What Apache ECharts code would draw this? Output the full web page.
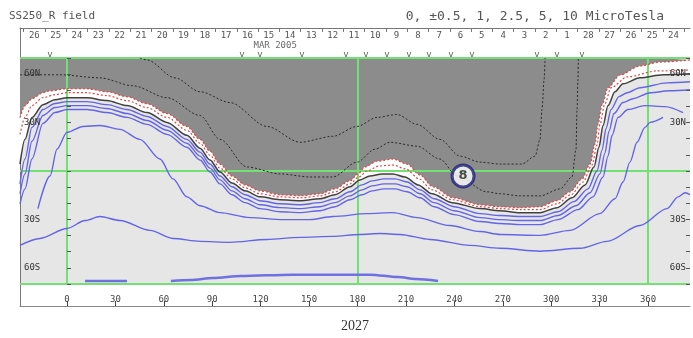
<!DOCTYPE html>
<html><head><meta charset="utf-8">
<script src="https://cdn.jsdelivr.net/npm/echarts@6/dist/echarts.min.js"></script>
<style>html,body{margin:0;padding:0;background:#fff}#c{width:693px;height:338px}</style>
</head><body><div id="c"></div>
<script>
// ---- axis ranges / ticks ----
const lonMin = -29.1, lonMax = 386.0;
const lonTicks = [0,30,60,90,120,150,180,210,240,270,300,330,360];
const latLabels = {60:'60N',30:'30N','-30':'30S','-60':'60S'};
const gridLon = [0,180,360];
const gridLat = [-70,0,70];
const dayLabels = ['26','25','24','23','22','21','20','19','18','17','16','15','14','13','12','11','10','9','8','7','6','5','4','3','2','1','28','27','26','25','24'];
const dayLon = [-20.2,-7.0,6.2,19.4,32.6,45.8,59.0,72.2,85.4,98.6,111.8,125.0,138.2,151.4,164.6,177.8,191.0,204.2,217.4,230.6,243.8,257.0,270.2,283.4,296.6,309.8,323.0,336.2,349.4,362.6,375.8];
const dayBounds = [-26.8,-13.6,-0.4,12.8,26.0,39.2,52.4,65.6,78.8,92.0,105.2,118.4,131.6,144.8,158.0,171.2,184.4,197.6,210.8,224.0,237.2,250.4,263.6,276.8,290.0,303.2,316.4,329.6,342.8,356.0,369.2,382.4];
const obsMarks = [-10.5,108.4,119.6,145.6,172.9,185.3,198.3,211.9,224.3,237.9,250.9,291.2,303.6,319.1];
const monthLabel = [[129,'MAR 2005']];
const rotation = '2027';
const stationMark = [[245.4,-3.1,'8']];

// ---- contours [lon, lat] ----
const grayEdge = [[-29.1,33.1],[-26.0,40.5],[-21.7,44.8],[-14.9,48.5],[-10.5,49.7],[0,51.0],[12.4,51.0],[24.8,49.1],[37.2,46.0],[49.6,41.7],[62.0,35.6],[74.3,27.6],[82.4,19.6],[88.6,12.3],[94.8,4.3],[102.2,-3.1],[110.3,-8.6],[119.6,-12.3],[132.0,-14.7],[144.4,-15.3],[156.8,-14.1],[166.1,-11.0],[175.3,-6.1],[180.3,-1.8],[184.6,2.5],[192.1,6.1],[202.0,7.4],[210.7,4.3],[218.7,-2.5],[226.8,-9.8],[239.2,-16.6],[255.9,-20.9],[268.3,-22.1],[280.7,-22.7],[293.1,-22.1],[303.6,-18.4],[311.7,-12.9],[319.1,-4.9],[324.1,4.3],[327.1,16.6],[329.0,28.9],[331.5,41.1],[335.2,51.6],[342.6,59.5],[355.0,65.1],[367.4,67.5],[386.0,68.8]];
const negHalf = [[-29.1,22.7],[-26.0,33.2],[-21.7,40.5],[-14.9,45.4],[-7.4,47.3],[0,48.5],[12.4,48.5],[24.8,46.7],[37.2,43.6],[49.6,39.3],[62.0,33.2],[74.3,25.2],[82.4,17.2],[88.6,9.8],[94.8,1.8],[102.2,-4.9],[110.3,-10.4],[119.6,-14.1],[132.0,-16.0],[144.4,-16.6],[156.8,-15.4],[166.1,-12.9],[175.3,-8.0],[180.9,-3.7],[185.9,0],[193.3,3.1],[202.0,3.7],[210.1,1.2],[218.1,-4.9],[226.2,-11.7],[238.6,-17.8],[255.9,-22.1],[268.3,-23.3],[280.7,-23.9],[293.1,-23.9],[303.6,-20.3],[312.3,-14.7],[319.7,-6.8],[325.3,3.7],[328.4,16.0],[330.2,28.9],[333.3,41.8],[337.1,51.6],[347.1,58.3],[365.7,62.0],[386.0,62.6]];
const neutral = [[-29.1,4.3],[-26.0,19.6],[-21.7,33.2],[-14.9,41.1],[-7.4,44.2],[0,45.4],[12.4,45.4],[24.8,43.6],[37.2,40.5],[49.6,36.2],[62.0,30.1],[74.3,22.1],[82.4,14.1],[88.6,6.8],[94.8,-0.6],[102.2,-7.4],[110.3,-12.3],[119.6,-16.0],[132.0,-17.8],[144.4,-18.4],[156.8,-17.2],[166.1,-14.7],[175.3,-9.8],[181.5,-5.5],[187.7,-3.1],[195.2,-1.8],[202.0,-1.8],[209.4,-3.7],[217.5,-8.6],[226.2,-14.1],[238.6,-19.6],[255.9,-23.3],[268.3,-24.6],[280.7,-25.8],[293.1,-25.8],[303.6,-22.7],[312.9,-16.6],[321.0,-8.6],[326.5,2.5],[329.6,14.7],[332.1,28.2],[335.2,40.5],[339.5,49.1],[344.5,54.0],[355.0,57.7],[369.3,59.6],[386.0,60.2]];
const pos05 = [[-29.1,-8.0],[-26.0,7.4],[-21.7,27.0],[-14.9,38.1],[-7.4,41.8],[0,43.0],[12.4,43.0],[24.8,41.1],[37.2,38.1],[49.6,33.8],[62.0,27.6],[74.3,19.6],[82.4,11.7],[88.6,4.3],[94.8,-3.1],[102.2,-9.8],[110.3,-14.7],[119.6,-18.4],[132.0,-20.3],[144.4,-20.9],[156.8,-19.6],[166.1,-17.2],[175.3,-12.9],[182.8,-8.6],[189.0,-6.1],[196.4,-4.9],[203.2,-4.9],[210.7,-6.8],[218.8,-11.7],[227.4,-17.2],[239.8,-22.1],[255.9,-26.4],[268.3,-27.6],[280.7,-28.2],[293.1,-28.2],[304.2,-25.2],[314.1,-19.0],[322.8,-11.1],[328.4,0],[331.5,12.9],[334.0,26.4],[337.1,38.1],[342.0,46.1],[347.1,48.5],[355.0,51.6],[371.8,54.6],[386.0,55.3]];
const pos1 = [[-29.1,-14.1],[-26.0,-1.8],[-21.7,18.4],[-14.9,34.4],[-7.4,39.3],[0,40.5],[12.4,40.5],[24.8,38.7],[37.2,35.6],[49.6,31.3],[62.0,25.2],[74.3,17.2],[82.4,9.2],[88.6,1.8],[94.8,-5.5],[102.2,-12.3],[110.3,-17.2],[119.6,-20.9],[132.0,-22.7],[144.4,-23.3],[156.8,-22.1],[166.1,-19.6],[175.3,-15.4],[182.8,-11.7],[189.0,-9.2],[196.4,-8.0],[203.2,-8.0],[210.7,-9.8],[218.8,-14.1],[227.4,-19.6],[239.8,-24.6],[255.9,-28.9],[268.3,-30.1],[280.7,-30.7],[293.1,-30.7],[304.2,-27.6],[315.4,-21.5],[324.1,-13.5],[330.2,-1.8],[333.3,11.1],[335.8,24.6],[338.9,35.6],[344.5,42.4],[350.7,44.8],[361.3,48.5],[373.6,49.7],[386.0,50.3]];
const pos25 = [[-29.1,-20.3],[-26.0,-11.1],[-21.7,7.4],[-14.9,29.5],[-7.4,36.2],[0,38.1],[12.4,38.1],[24.8,36.2],[37.2,33.2],[49.6,28.9],[62.0,22.7],[74.3,14.7],[82.4,6.8],[88.6,-0.6],[94.8,-8.0],[102.2,-14.7],[110.3,-19.6],[119.6,-23.3],[132.0,-25.2],[144.4,-25.8],[156.8,-24.6],[166.1,-22.1],[175.3,-17.8],[182.8,-14.7],[189.0,-12.3],[196.4,-11.1],[203.2,-11.1],[210.7,-12.9],[218.8,-16.6],[227.4,-22.1],[239.8,-27.0],[255.9,-31.3],[268.3,-32.5],[280.7,-33.2],[293.1,-33.2],[304.2,-30.1],[316.6,-23.9],[325.9,-16.0],[332.1,-3.7],[335.2,9.2],[337.7,22.1],[341.4,33.2],[347.6,38.1],[358.1,40.5],[370.5,39.9],[381.7,36.2]];
const pos5 = [[-18.0,-23.3],[-10.5,-3.1],[-6.2,13.5],[0,23.9],[9.9,27.6],[20.4,28.2],[32.8,25.8],[45.2,19.6],[57.6,7.4],[65.7,-4.9],[74.3,-16.0],[82.4,-21.5],[94.8,-25.8],[113.4,-28.9],[133.8,-30.1],[150.6,-30.1],[164.8,-28.2],[185.9,-26.4],[202.0,-25.8],[216.9,-28.9],[237.3,-33.8],[255.9,-37.5],[268.3,-39.3],[293.1,-39.9],[311.7,-36.8],[330.2,-26.4],[339.5,-17.2],[344.5,-6.8],[348.8,5.5],[353.2,17.8],[358.1,27.0],[361.3,30.1],[369.3,33.2]];
const pos10 = [[-29.1,-46.1],[-16.7,-41.8],[0,-35.6],[11.2,-30.7],[20.4,-28.2],[32.8,-30.7],[51.4,-36.8],[65.7,-41.8],[82.4,-43.6],[101.0,-44.2],[123.9,-42.4],[144.4,-41.1],[164.8,-40.5],[181.5,-39.3],[193.9,-38.7],[206.3,-39.3],[224.9,-42.4],[249.7,-46.1],[268.3,-47.9],[293.1,-49.7],[317.9,-47.9],[334.6,-43.6],[355.0,-33.8],[371.8,-23.3],[378.6,-16.0],[383.0,-13.5],[386.0,-14.7]];
const southA = [[11.2,-68.1],[37.2,-68.1]];
const southB = [[64.4,-68.1],[76.8,-67.5],[90.5,-66.3],[107.8,-65.1],[139.4,-64.2],[187.7,-64.2],[205.1,-65.7],[216.2,-66.9],[229.9,-68.1]];
const neg1 = [[-29.1,59.6],[-4.3,59.6],[20.4,57.7],[40.9,52.8],[62.0,45.4],[82.4,34.4],[94.8,19.6],[111.5,2.5],[132.0,-1.8],[150.6,-3.7],[164.8,-3.7],[179.7,5.5],[190.8,13.5],[200.1,17.8],[216.9,15.4],[231.1,7.4],[241.6,-3.1],[260.2,-12.9],[268.3,-14.1],[280.7,-15.4],[293.1,-15.4],[305.5,-11.1],[312.9,-3.7],[315.4,13.5],[316.0,38.1],[316.6,56.5],[316.8,70]];
const neg2 = [[45.2,70],[49.6,68.8],[66.9,57.7],[82.4,49.1],[101.0,42.4],[123.9,27.6],[144.4,17.8],[164.8,21.5],[179.7,27.6],[192.1,33.2],[204.5,35.0],[216.9,28.9],[231.1,19.6],[243.5,9.2],[255.9,5.5],[268.3,4.3],[281.9,4.3],[290.0,9.2],[293.1,19.6],[294.3,38.1],[295.6,56.5],[296.2,70]];

const MONO = 'DejaVu Sans Mono';
const chart = echarts.init(document.getElementById('c'), null, {renderer:'canvas'});

function contour(data, color, width, type, z, smooth) {
  return {type:'line', xAxisIndex:0, yAxisIndex:0, data:data, symbol:'none', smooth:smooth==null?0.3:smooth,
    smoothMonotone:'x', silent:true, z:z||5, lineStyle:{color:color, width:width, type:type||'solid'}};
}
function textMarks(data, fontSize, color) {
  return {type:'scatter', xAxisIndex:1, yAxisIndex:2, data:data, symbol:'circle', symbolSize:1, silent:true, z:6,
    itemStyle:{color:'rgba(0,0,0,0)'},
    label:{show:true, position:'inside', formatter:p=>p.data[2], fontFamily:MONO, fontSize:fontSize, color:color}};
}

const option = {
  animation:false,
  backgroundColor:'#ffffff',
  title:[
    {text:'SS250_R field', left:4, top:6, textStyle:{fontFamily:MONO, fontSize:11, fontWeight:'normal', color:'#555'}},
    {text:'0, \u00b10.5, 1, 2.5, 5, 10 MicroTesla', right:24, top:5, textStyle:{fontFamily:MONO, fontSize:13, fontWeight:'normal', color:'#555'}}
  ],
  grid:[
    {left:20, right:3, top:58, height:226, show:true, backgroundColor:'#e6e6e6', borderWidth:0},
    {left:20, right:3, top:28, height:30},
    {left:20, right:3, top:28, bottom:25}
  ],
  xAxis:[
    {gridIndex:0, type:'value', min:lonMin, max:lonMax, show:false},
    {gridIndex:1, type:'value', min:lonMin, max:lonMax, position:'top',
      axisLine:{show:true, onZero:false, lineStyle:{color:'#777', width:1}},
      axisTick:{show:true, inside:true, length:4, customValues:dayBounds, lineStyle:{color:'#777'}},
      axisLabel:{show:true, inside:true, margin:3, customValues:dayLon, fontFamily:MONO, fontSize:9, color:'#555',
        formatter:function(v){const i=dayLon.indexOf(v); return i>=0?dayLabels[i]:'';}},
      splitLine:{show:false}},
    {gridIndex:2, type:'value', min:lonMin, max:lonMax, position:'bottom',
      axisLine:{show:true, onZero:false, lineStyle:{color:'#888', width:1}},
      axisTick:{show:true, inside:true, length:5, customValues:lonTicks, lineStyle:{color:'#444'}},
      axisLabel:{show:true, inside:true, margin:2, customValues:lonTicks, fontFamily:MONO, fontSize:9, color:'#444'},
      splitLine:{show:false},
      name:rotation, nameLocation:'middle', nameGap:13,
      nameTextStyle:{fontFamily:'Liberation Serif', fontSize:14, color:'#333'}}
  ],
  yAxis:[
    {gridIndex:0, type:'value', min:-70, max:70, interval:10, position:'left', z:10,
      axisLine:{show:false}, splitLine:{show:false},
      axisTick:{show:true, inside:true, length:4, lineStyle:{color:'#555'}},
      axisLabel:{show:true, inside:true, margin:4, fontFamily:MONO, fontSize:9, color:'#333',
        formatter:function(v){return latLabels[v]||'';}}},
    {gridIndex:0, type:'value', min:-70, max:70, interval:10, position:'right', z:10,
      axisLine:{show:false}, splitLine:{show:false},
      axisTick:{show:true, inside:true, length:4, lineStyle:{color:'#555'}},
      axisLabel:{show:true, inside:true, margin:4, fontFamily:MONO, fontSize:9, color:'#333',
        formatter:function(v){return latLabels[v]||'';}}},
    {gridIndex:1, type:'value', min:0, max:1, show:false},
    {gridIndex:2, type:'value', min:0, max:1, position:'left',
      axisLine:{show:true, onZero:false, lineStyle:{color:'#777', width:1}}, axisTick:{show:false}, axisLabel:{show:false}, splitLine:{show:false}}
  ],
  series:[
    {type:'line', xAxisIndex:0, yAxisIndex:0, data:neutral, symbol:'none', smooth:0.3, smoothMonotone:'x', silent:true, z:1,
      lineStyle:{width:0, opacity:0}, areaStyle:{origin:'end', color:'#ffffff', opacity:1}},
    {type:'line', xAxisIndex:0, yAxisIndex:0, data:grayEdge, symbol:'none', smooth:0.3, smoothMonotone:'x', silent:true, z:1,
      lineStyle:{width:0, opacity:0}, areaStyle:{origin:'end', color:'#8c8c8c', opacity:1}},
    {type:'line', xAxisIndex:0, yAxisIndex:0, data:[], silent:true, z:3,
      markLine:{silent:true, symbol:['none','none'], label:{show:false}, animation:false,
        lineStyle:{color:'#72e072', width:2, type:'solid'},
        data:gridLon.map(v=>({xAxis:v})).concat(gridLat.map(v=>({yAxis:v})))}},
    contour(grayEdge, '#e04848', 1.3, [2,2], 5),
    contour(negHalf, '#e04848', 1.2, [2,2], 5),
    contour(neutral, '#404040', 1.5, 'solid', 5),
    contour(pos05, '#6464e6', 1.4, 'solid', 5),
    contour(pos1, '#6464e6', 1.4, 'solid', 5),
    contour(pos25, '#6464e6', 1.4, 'solid', 5),
    contour(pos5, '#6464e6', 1.4, 'solid', 5),
    contour(pos10, '#6464e6', 1.4, 'solid', 5),
    contour(southA, '#7070e0', 2.5, 'solid', 5, 0),
    contour(southB, '#7070e0', 2.5, 'solid', 5, 0.3),
    contour(neg1, '#2a2a2a', 1, [2,2], 5),
    contour(neg2, '#2a2a2a', 1, [2,2], 5),
    textMarks(obsMarks.map(v=>[v,0.12,'v']), 9, '#333'),
    textMarks(monthLabel.map(d=>[d[0],0.42,d[1]]), 9, '#444'),
    {type:'scatter', xAxisIndex:0, yAxisIndex:0, data:stationMark, symbol:'circle', symbolSize:22, silent:true, z:8,
      itemStyle:{color:'#ffffff', borderColor:'#1e1e7a', borderWidth:3},
      label:{show:true, position:'inside', formatter:p=>p.data[2], fontFamily:'DejaVu Sans', fontWeight:'bold', fontSize:13, color:'#222'}}
  ]
};
chart.setOption(option);
</script></body></html>
